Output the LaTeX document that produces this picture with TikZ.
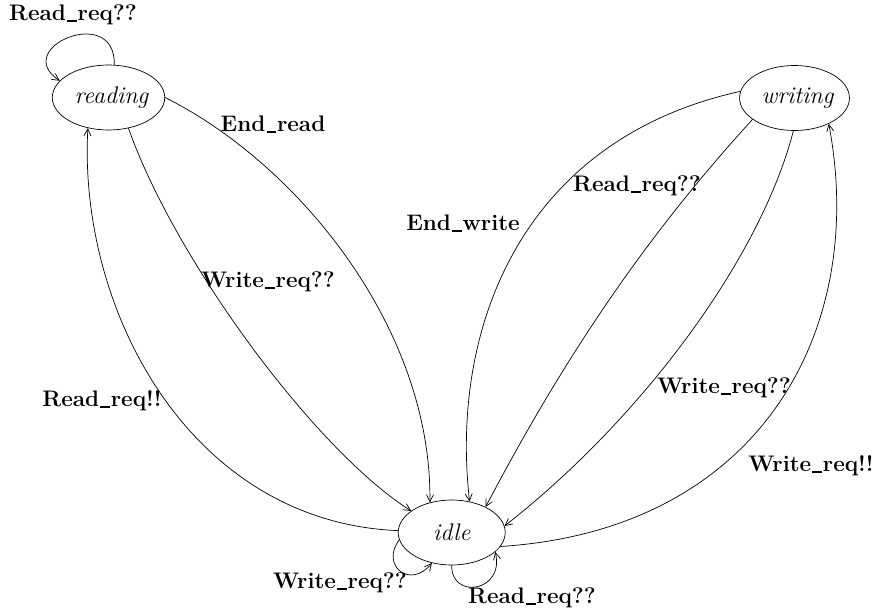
\documentclass[tikz,border=0pt]{standalone}
\usetikzlibrary{shapes.geometric,arrows.meta}
% short, heavy underscore as in the classic bold label font
\newcommand\usc{\kern.05em\rule[-0.07em]{0.42em}{0.09em}\kern.05em}
\begin{document}
\begin{tikzpicture}[x=1pt,y=-1pt,
  state/.style={draw, ellipse, line width=0.7pt, minimum width=107pt, minimum height=65pt,
    inner sep=0pt, font=\fontsize{24}{28}\selectfont\itshape},
  trans/.style={line width=0.7pt, -{Straight Barb[length=7pt,width=7pt,line width=0.7pt]}},
  lbl/.style={inner sep=0pt, font=\fontsize{22.5}{26}\selectfont\bfseries}]
\useasboundingbox (0,0) rectangle (877,615);

% states
\node[state] (reading) at (108.5,97.5) {\kern6pt reading};
\node[state] (writing) at (794.5,98) {\kern6pt writing};
\node[state] (idle) at (451.7,532.5) {idle};

% transitions
\draw[trans] (reading.80) .. controls (116,3) and (10,48) .. (reading.161);
\draw[trans] (reading.east) .. controls (300,165) and (432,330) .. (idle.126);
\draw[trans] (reading.-57) .. controls (175,260) and (315,450) .. (idle.152);
\draw[trans] (idle.178) .. controls (190,522) and (78,310) .. (reading.236);
\draw[trans] (writing.173) .. controls (520,140) and (450,330) .. (idle.60);
\draw[trans] (writing.207) .. controls (635,248) and (555,375) .. (idle.37);
\draw[trans] (writing.268) .. controls (760,260) and (640,420) .. (idle.7);
\draw[trans] (idle.-16) .. controls (760,530) and (868,330) .. (writing.-37);
\draw[trans] (idle.188) .. controls (380,565) and (410,590) .. (idle.237);
\draw[trans] (idle.270) .. controls (451,600) and (505,592) .. (idle.-24);

% labels
\node[lbl] (l1) at (73,15) {Read\usc req??};
\node[lbl] (l2) at (273,124) {End\usc read};
\node[lbl] (l3) at (268,282) {Write\usc req??};
\node[lbl] (l4) at (102,401) {Read\usc req!!};
\node[lbl] (l5) at (463,223) {End\usc write};
\node[lbl] (l6) at (637,186) {Read\usc req??};
\node[lbl] (l7) at (724,388) {Write\usc req??};
\node[lbl] (l8) at (811,466) {Write\usc req!!};
\node[lbl] (l9) at (340,583) {Write\usc req??};
\node[lbl] (l10) at (532,598) {Read\usc req??};
\end{tikzpicture}
\end{document}
